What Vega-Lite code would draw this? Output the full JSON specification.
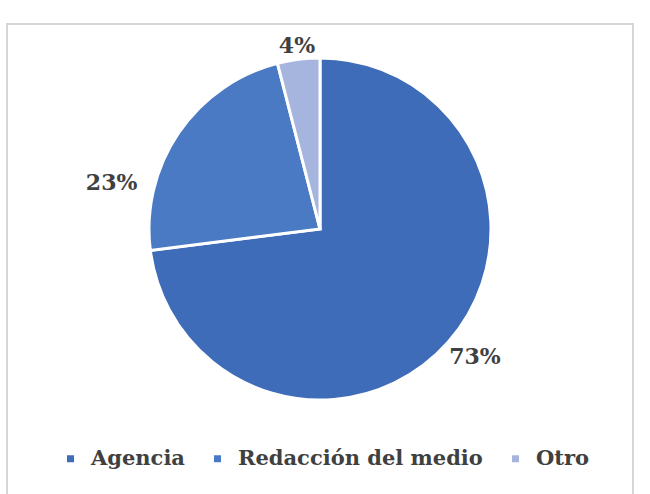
{
  "$schema": "https://vega.github.io/schema/vega-lite/v6.json",
  "autosize": {"type": "fit", "contains": "padding"},
  "width": 650,
  "height": 494,
  "padding": {"left": 7, "top": 24, "right": 17, "bottom": -3},
  "background": "white",
  "view": {"stroke": "#d6d6d6", "strokeWidth": 2},
  "config": {"font": "DejaVu Serif"},
  "data": {
    "values": [
      {"fuente": "Agencia", "pct": 73, "etiqueta": "73%", "orden": 1},
      {"fuente": "Redacción del medio", "pct": 23, "etiqueta": "23%", "orden": 2},
      {"fuente": "Otro", "pct": 4, "etiqueta": "4%", "orden": 3}
    ]
  },
  "transform": [
    {"stack": "pct", "groupby": [], "sort": [{"field": "orden", "order": "ascending"}], "as": ["t0", "t1"]},
    {"calculate": "(datum.t0 + datum.t1) / 2", "as": "tmid"}
  ],
  "layer": [
    {
      "mark": {"type": "arc", "x": 313, "y": 205, "outerRadius": 171, "stroke": "white", "strokeWidth": 3},
      "encoding": {
        "theta": {"field": "t0", "type": "quantitative", "scale": {"domain": [0, 100]}},
        "theta2": {"field": "t1"},
        "color": {
          "field": "fuente",
          "type": "nominal",
          "sort": ["Agencia", "Redacción del medio", "Otro"],
          "scale": {"domain": ["Agencia", "Redacción del medio", "Otro"], "range": ["#3e6cb8", "#4a7ac4", "#a6b5de"]},
          "legend": {
            "title": null,
            "orient": "none",
            "direction": "horizontal",
            "legendX": 53,
            "legendY": 424,
            "symbolType": "square",
            "symbolSize": 49,
            "symbolStrokeWidth": 0,
            "labelFont": "DejaVu Serif",
            "labelFontWeight": "bold",
            "labelFontSize": 21,
            "labelColor": "#404040",
            "labelOffset": 10,
            "columnPadding": 22,
            "labelLimit": 400
          }
        }
      }
    },
    {
      "transform": [{"filter": "datum.orden == 1"}],
      "mark": {"type": "text", "x": 313, "y": 205, "radius": 200, "dx": 5, "dy": -4, "font": "DejaVu Serif", "fontWeight": "bold", "fontSize": 22, "fill": "#404040"},
      "encoding": {
        "theta": {"field": "tmid", "type": "quantitative"},
        "text": {"field": "etiqueta"}
      }
    },
    {
      "transform": [{"filter": "datum.orden == 2"}],
      "mark": {"type": "text", "x": 313, "y": 205, "radius": 206, "dx": -38, "dy": 70, "font": "DejaVu Serif", "fontWeight": "bold", "fontSize": 22, "fill": "#404040"},
      "encoding": {
        "theta": {"field": "tmid", "type": "quantitative"},
        "text": {"field": "etiqueta"}
      }
    },
    {
      "transform": [{"filter": "datum.orden == 3"}],
      "mark": {"type": "text", "x": 313, "y": 205, "radius": 184, "font": "DejaVu Serif", "fontWeight": "bold", "fontSize": 22, "fill": "#404040"},
      "encoding": {
        "theta": {"field": "tmid", "type": "quantitative"},
        "text": {"field": "etiqueta"}
      }
    }
  ]
}
